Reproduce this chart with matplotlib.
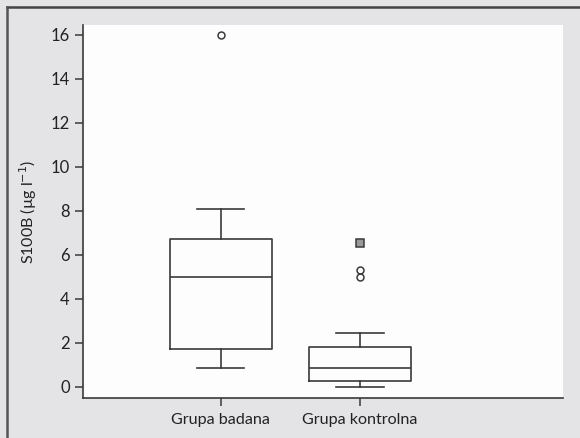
import matplotlib.pyplot as plt
from matplotlib.lines import Line2D

# values
groups = ['Grupa badana', 'Grupa kontrolna']
whislo = [0.85, 0.02]
q1 = [1.71, 0.29]
med = [4.98, 0.85]
q3 = [6.73, 1.83]
whishi = [8.09, 2.47]
outliers = [[16.0], [5.0, 5.32]]
extremes = [[], [6.56]]
yticks = [0, 2, 4, 6, 8, 10, 12, 14, 16]

plt.rcParams['font.family'] = ['Lato', 'DejaVu Sans']

fig = plt.figure(figsize=(5.8, 4.38), dpi=100, facecolor='#e4e4e6')
ax = fig.add_axes([83/580, 1 - 398/438, 480/580, 373/438])
ax.set_facecolor('#fdfdfd')

stats = []
for i in range(len(groups)):
    stats.append(dict(label=groups[i], whislo=whislo[i], q1=q1[i], med=med[i],
                      q3=q3[i], whishi=whishi[i], fliers=outliers[i]))

dark = '#3a3a3a'
ax.bxp(stats, positions=[1, 2], widths=0.73, capwidths=0.34,
       boxprops=dict(color=dark, linewidth=1.2),
       medianprops=dict(color=dark, linewidth=1.2),
       whiskerprops=dict(color=dark, linewidth=1.2),
       capprops=dict(color=dark, linewidth=1.2),
       flierprops=dict(marker='o', markerfacecolor='none', markeredgecolor=dark,
                       markersize=5, markeredgewidth=1.1))

for i, ex in enumerate(extremes):
    if ex:
        ax.plot([i + 1] * len(ex), ex, marker='s', linestyle='none',
                markerfacecolor='#9a9a9a', markeredgecolor=dark,
                markersize=6, markeredgewidth=1.1)

ax.set_xlim(0.01, 3.46)
ax.set_ylim(-0.5, 16.45)
ax.set_yticks(yticks)
ax.set_xticks([1, 2])
ax.set_xticklabels(groups)
ax.set_ylabel('S100B (µg l$^{-1}$)', fontsize=11.5, color='#222222', labelpad=8)

for s in ['top', 'right']:
    ax.spines[s].set_visible(False)
for s in ['left', 'bottom']:
    ax.spines[s].set_color(dark)
    ax.spines[s].set_linewidth(1.2)
ax.tick_params(axis='both', colors=dark, labelcolor='#222222', labelsize=12,
               length=6, width=1.1)
ax.tick_params(axis='x', pad=5, labelsize=11.6)

# outer frame lines (top and left)
fig.add_artist(Line2D([7/580, 1], [1 - 7/438, 1 - 7/438], color='#444444',
                      linewidth=1.8, transform=fig.transFigure))
fig.add_artist(Line2D([7/580, 7/580], [0, 1 - 7/438], color='#555555',
                      linewidth=1.8, transform=fig.transFigure))

fig.savefig('out.png', dpi=100, facecolor=fig.get_facecolor())
